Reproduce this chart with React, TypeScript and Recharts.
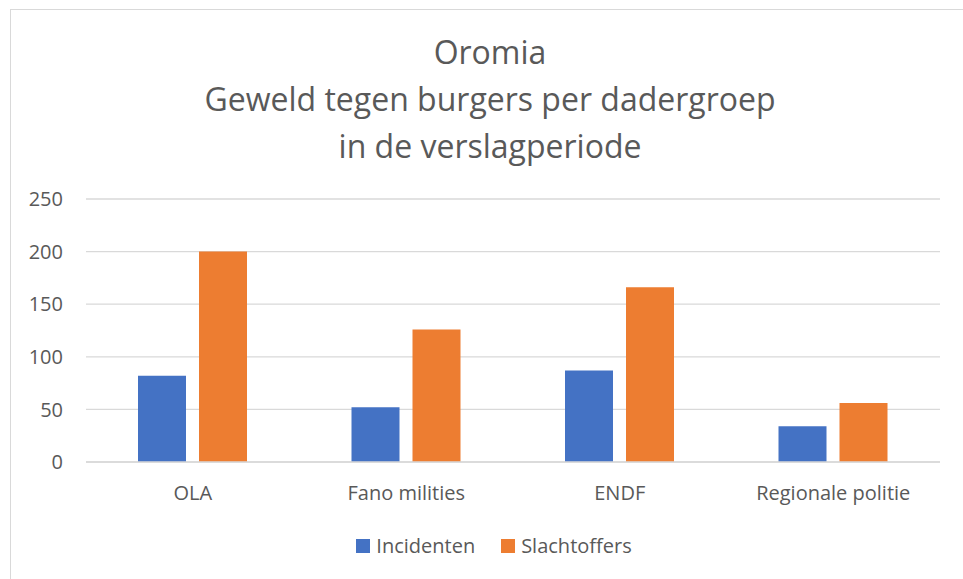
import { BarChart, Bar, XAxis, YAxis, CartesianGrid, Legend } from 'recharts'

const CATEGORIES = ['OLA', 'Fano milities', 'ENDF', 'Regionale politie']
const INCIDENTEN = [82, 52, 87, 34]
const SLACHTOFFERS = [200, 126, 166, 56]
const Y_TICKS = [0, 50, 100, 150, 200, 250]
const TITLE_LINES = ['Oromia', 'Geweld tegen burgers per dadergroep', 'in de verslagperiode']

const SERIES = [
  { key: 'incidenten', name: 'Incidenten', color: '#4472C4' },
  { key: 'slachtoffers', name: 'Slachtoffers', color: '#ED7D31' },
]

const data = CATEGORIES.map((name, i) => ({
  name,
  incidenten: INCIDENTEN[i],
  slachtoffers: SLACHTOFFERS[i],
}))

const FONT = '"Open Sans", sans-serif'
const TEXT = '#595959'

function renderLegend() {
  return (
    <div style={{ display: 'flex', justifyContent: 'center', alignItems: 'center', gap: 26 }}>
      {SERIES.map((s) => (
        <div key={s.key} style={{ display: 'flex', alignItems: 'center', gap: 6 }}>
          <span style={{ width: 14, height: 14, background: s.color, display: 'inline-block' }} />
          <span style={{ fontSize: 20, color: TEXT, fontFamily: FONT }}>{s.name}</span>
        </div>
      ))}
    </div>
  )
}

export default function App() {
  return (
    <div style={{ position: 'absolute', left: 0, top: 0, width: 963, height: 579, overflow: 'hidden', background: '#fff', fontFamily: FONT }}>
      <div style={{ position: 'absolute', left: 10, top: 9, width: 975, height: 600, border: '1.5px solid #d9d9d9', boxSizing: 'border-box' }} />
      <div style={{ position: 'absolute', left: 0, top: 28, width: 980, textAlign: 'center', fontSize: 32, lineHeight: '47px', color: TEXT }}>
        {TITLE_LINES.map((t) => (
          <div key={t}>{t}</div>
        ))}
      </div>
      <div style={{ position: 'absolute', left: 0, top: 0 }}>
        <BarChart
          width={963}
          height={579}
          data={data}
          margin={{ top: 199, right: 23, bottom: 61, left: 0 }}
          barSize={48}
          barGap={13}
        >
          <CartesianGrid horizontal vertical={false} stroke="#d9d9d9" strokeWidth={1.3} />
          <XAxis
            dataKey="name"
            height={30}
            axisLine={{ stroke: '#d9d9d9', strokeWidth: 1.3 }}
            tickLine={false}
            tickMargin={18}
            tick={{ fontSize: 20, fill: TEXT, fontFamily: FONT }}
          />
          <YAxis
            width={86}
            domain={[0, 250]}
            ticks={Y_TICKS}
            axisLine={false}
            tickLine={false}
            tickMargin={17}
            tick={{ fontSize: 20, fill: TEXT, fontFamily: FONT }}
          />
          {SERIES.map((s) => (
            <Bar key={s.key} dataKey={s.key} name={s.name} fill={s.color} isAnimationActive={false} />
          ))}
          <Legend
            content={renderLegend}
            wrapperStyle={{ position: 'absolute', left: 0, top: 532, width: 988, height: 26 }}
          />
        </BarChart>
      </div>
    </div>
  )
}
